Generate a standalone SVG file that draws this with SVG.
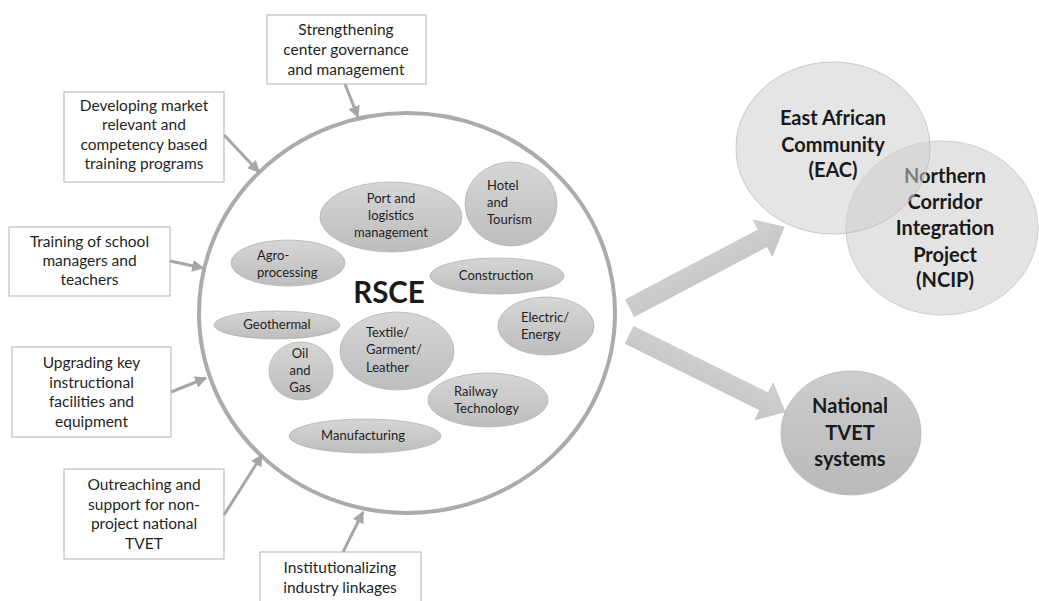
<svg xmlns="http://www.w3.org/2000/svg" width="1039" height="601" viewBox="0 0 1039 601">
<defs>
<style>
.box{fill:#fff;stroke:#bfbfbf;stroke-width:1.2}
.bt{font-family:Lato,"Liberation Sans",sans-serif;font-size:15.5px;fill:#1f1f1f;text-anchor:middle}
.sec{stroke:#b3b3b3;stroke-width:0.8;fill:url(#eg)}
.st{font-family:Lato,"Liberation Sans",sans-serif;font-size:13px;fill:#1f1f1f}
.mid{text-anchor:middle}
.bold{font-family:Lato,"Liberation Sans",sans-serif;font-weight:bold;fill:#1a1a1a;text-anchor:middle}
.conn{stroke:#a6a6a6;stroke-width:3;fill:none;marker-end:url(#ah)}
</style>
<linearGradient id="eg" x1="0" y1="0" x2="0" y2="1">
<stop offset="0" stop-color="#d6d6d6"/><stop offset="1" stop-color="#bdbdbd"/>
</linearGradient>
<linearGradient id="ag" x1="0" y1="0" x2="0" y2="1">
<stop offset="0" stop-color="#d2d2d2"/><stop offset="1" stop-color="#c4c4c4"/>
</linearGradient>
<linearGradient id="ng" x1="0" y1="0" x2="0" y2="1">
<stop offset="0" stop-color="#cdcdcd"/><stop offset="1" stop-color="#b9b9b9"/>
</linearGradient>
<marker id="ah" viewBox="0 0 10 10" refX="9" refY="5" markerWidth="4" markerHeight="4" orient="auto" markerUnits="strokeWidth">
<path d="M0,0 L10,5 L0,10 z" fill="#a6a6a6"/>
</marker>
</defs>
<rect width="1039" height="601" fill="#fff"/>

<g id="rsce">
<ellipse cx="407" cy="313" rx="208" ry="200" fill="#fff" stroke="#ababab" stroke-width="4"/>
<text class="bold" x="389" y="303" font-size="29.5">RSCE</text>
</g>

<g id="port"><ellipse class="sec" cx="391" cy="217" rx="71" ry="35"/>
<text class="st mid" x="391" y="203">Port and</text><text class="st mid" x="391" y="220">logistics</text><text class="st mid" x="391" y="237">management</text></g>
<g id="hotel"><ellipse class="sec" cx="511" cy="204" rx="46" ry="42"/>
<text class="st" x="487" y="190">Hotel</text><text class="st" x="487" y="207">and</text><text class="st" x="487" y="224">Tourism</text></g>
<g id="agro"><ellipse class="sec" cx="288" cy="263" rx="57" ry="23"/>
<text class="st" x="257" y="260">Agro-</text><text class="st" x="257" y="277">processing</text></g>
<g id="construction"><ellipse class="sec" cx="497" cy="276" rx="67" ry="18"/>
<text class="st mid" x="496" y="280">Construction</text></g>
<g id="geothermal"><ellipse class="sec" cx="277" cy="325" rx="63" ry="14"/>
<text class="st mid" x="277" y="329">Geothermal</text></g>
<g id="electric"><ellipse class="sec" cx="546" cy="326" rx="48" ry="29"/>
<text class="st" x="521" y="322">Electric/</text><text class="st" x="521" y="339">Energy</text></g>
<g id="oil"><ellipse class="sec" cx="301" cy="371" rx="32" ry="29"/>
<text class="st mid" x="300" y="358">Oil</text><text class="st mid" x="300" y="375">and</text><text class="st mid" x="300" y="392">Gas</text></g>
<g id="textile"><ellipse class="sec" cx="397" cy="351" rx="57" ry="39"/>
<text class="st" x="366" y="337">Textile/</text><text class="st" x="366" y="354">Garment/</text><text class="st" x="366" y="372">Leather</text></g>
<g id="railway"><ellipse class="sec" cx="488" cy="400" rx="60" ry="27"/>
<text class="st" x="454" y="396">Railway</text><text class="st" x="454" y="413">Technology</text></g>
<g id="manufacturing"><ellipse class="sec" cx="365" cy="436" rx="76" ry="17"/>
<text class="st mid" x="363" y="440">Manufacturing</text></g>

<g id="box-governance"><rect class="box" x="267" y="15" width="159" height="69"/>
<text class="bt" x="346" y="35">Strengthening</text><text class="bt" x="346" y="55">center governance</text><text class="bt" x="346" y="75">and management</text></g>
<g id="box-market"><rect class="box" x="64" y="92" width="160" height="90"/>
<text class="bt" x="144" y="111">Developing market</text><text class="bt" x="144" y="130">relevant and</text><text class="bt" x="144" y="150">competency based</text><text class="bt" x="144" y="169">training programs</text></g>
<g id="box-training"><rect class="box" x="9" y="227" width="161" height="69"/>
<text class="bt" x="89.5" y="247">Training of school</text><text class="bt" x="89.5" y="266">managers and</text><text class="bt" x="89.5" y="285">teachers</text></g>
<g id="box-upgrading"><rect class="box" x="12" y="347" width="159" height="90"/>
<text class="bt" x="91.5" y="368">Upgrading key</text><text class="bt" x="91.5" y="388">instructional</text><text class="bt" x="91.5" y="407">facilities and</text><text class="bt" x="91.5" y="427">equipment</text></g>
<g id="box-outreach"><rect class="box" x="64" y="469" width="160" height="90"/>
<text class="bt" x="144" y="490">Outreaching and</text><text class="bt" x="144" y="510">support for non-</text><text class="bt" x="144" y="529">project national</text><text class="bt" x="144" y="549">TVET</text></g>
<g id="box-industry"><rect class="box" x="260" y="552" width="161" height="70"/>
<text class="bt" x="340" y="573">Institutionalizing</text><text class="bt" x="340" y="593">industry linkages</text></g>

<g id="ncip"><ellipse cx="942" cy="228" rx="96" ry="87" fill="#e3e3e3" stroke="#c4c4c4" stroke-width="0.8"/>
<g class="bold" font-size="20"><text x="945" y="183">Northern</text><text x="945" y="209">Corridor</text><text x="945" y="235">Integration</text><text x="945" y="262">Project</text><text x="945" y="287">(NCIP)</text></g></g>
<g id="eac"><ellipse cx="833" cy="148" rx="97" ry="86" fill="#d0d0d0" fill-opacity="0.55" stroke="#bdbdbd" stroke-width="0.8"/>
<g class="bold" font-size="20"><text x="833" y="125">East African</text><text x="833" y="152">Community</text><text x="833" y="177">(EAC)</text></g></g>
<g id="national"><ellipse cx="851" cy="433" rx="70" ry="62" fill="url(#ng)" stroke="#b5b5b5" stroke-width="0.8"/>
<g class="bold" font-size="20"><text x="850" y="413">National</text><text x="850" y="440">TVET</text><text x="850" y="466">systems</text></g></g>

<g id="connectors">
<line class="conn" x1="345" y1="84" x2="358" y2="117"/>
<line class="conn" x1="224" y1="135" x2="259" y2="172"/>
<line class="conn" x1="170" y1="261" x2="203" y2="268"/>
<line class="conn" x1="171" y1="392" x2="206" y2="378"/>
<line class="conn" x1="224" y1="515" x2="262" y2="455"/>
<line class="conn" x1="343" y1="552" x2="363" y2="512"/>
<polygon transform="translate(630,308) rotate(-27.74)" points="0,-9.5 150,-9.5 150,-20.5 174,0 150,20.5 150,9.5 0,9.5" fill="url(#ag)" stroke="#c0c0c0" stroke-width="0.6"/>
<polygon transform="translate(629.5,335) rotate(26.3)" points="0,-9.5 150,-9.5 150,-20.5 173.5,0 150,20.5 150,9.5 0,9.5" fill="url(#ag)" stroke="#c0c0c0" stroke-width="0.6"/>
</g>
</svg>
